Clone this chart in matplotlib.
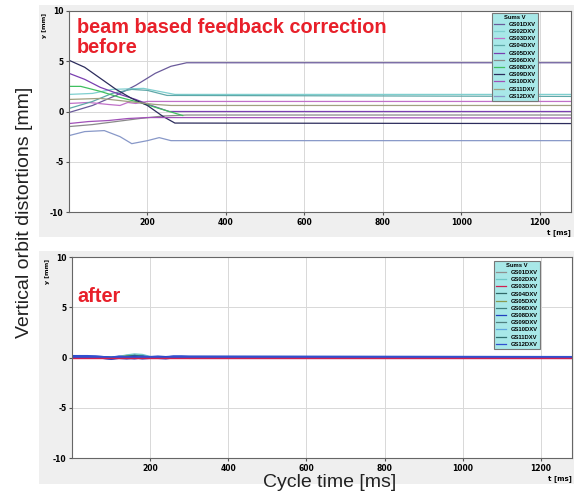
import numpy as np
import matplotlib.pyplot as plt
from matplotlib.patches import Rectangle

# Nombres de los canales y colores (leyenda)
canales = ["GS01DXV", "GS02DXV", "GS03DXV", "GS04DXV", "GS05DXV", "GS06DXV",
           "GS08DXV", "GS09DXV", "GS10DXV", "GS11DXV", "GS12DXV"]
colores_antes = ["#6a5a9a", "#7fcfcf", "#c070c8", "#5fa8a8", "#7a3fb0", "#8a8a8a",
                 "#40c060", "#2c2c5c", "#a050b8", "#a0a080", "#8898c8"]
colores_despues = ["#909090", "#70c8c8", "#d02050", "#306868", "#8a9a50", "#408080",
                   "#2040c0", "#508080", "#60a8e0", "#307070", "#3050d0"]

# Antes: (t [ms], y [mm])
t_antes = [
    [0, 60, 120, 170, 220, 260, 300, 1280],
    [0, 60, 110, 190, 230, 270, 1280],
    [0, 50, 100, 130, 150, 170, 200, 1280],
    [0, 60, 110, 160, 200, 250, 1280],
    [0, 40, 80, 130, 170, 210, 255, 1280],
    [0, 60, 120, 180, 240, 300, 1280],
    [0, 30, 80, 130, 180, 230, 290],
    [0, 40, 80, 120, 160, 200, 240, 270, 1280],
    [0, 50, 100, 150, 200, 1280],
    [0, 80, 150, 220, 260, 1280],
    [0, 40, 90, 130, 160, 200, 230, 260, 1280],
]
y_antes = [
    [-0.1, 0.6, 1.6, 2.6, 3.8, 4.5, 4.85, 4.85],
    [1.7, 1.8, 2.2, 2.3, 2.0, 1.7, 1.7],
    [0.8, 0.9, 0.7, 0.6, 0.9, 0.8, 1.0, 1.0],
    [0.3, 1.0, 1.8, 2.2, 2.1, 1.6, 1.5],
    [3.8, 3.2, 2.4, 1.7, 1.2, 0.6, 0.0, 0.0],
    [-1.5, -1.3, -1.0, -0.7, -0.45, -0.35, -0.35],
    [2.5, 2.5, 2.0, 1.4, 0.9, 0.3, -0.4],
    [5.1, 4.4, 3.3, 2.2, 1.3, 0.6, -0.5, -1.15, -1.2],
    [-1.2, -1.0, -0.9, -0.7, -0.6, -0.65],
    [1.2, 1.3, 1.0, 0.7, 0.6, 0.6],
    [-2.4, -2.0, -1.9, -2.5, -3.2, -2.9, -2.6, -2.9, -2.9],
]

# Después: todo cerca de cero, pequeñas oscilaciones hasta ~300 ms
t_despues = [0, 20, 40, 60, 80, 100, 120, 140, 160, 180, 200, 220, 240, 260, 280, 300, 1280]
y_despues = [
    [0.0, 0.05, 0.0, 0.05, 0.0, 0.0, 0.1, 0.2, 0.25, 0.2, 0.05, 0.0, 0.0, 0.0, 0.0, 0.0, 0.0],
    [0.0, 0.0, 0.05, 0.0, 0.0, 0.05, 0.1, 0.25, 0.35, 0.3, 0.1, 0.0, 0.0, 0.0, 0.0, 0.0, 0.0],
    [0.0, 0.0, 0.0, 0.0, 0.0, 0.0, 0.0, 0.0, 0.0, 0.0, 0.0, 0.0, 0.0, 0.0, 0.0, 0.0, 0.0],
    [0.05, 0.1, 0.05, 0.0, 0.05, 0.0, 0.0, 0.1, 0.15, 0.1, 0.0, 0.05, 0.0, 0.0, 0.0, 0.0, 0.0],
    [0.0, 0.0, 0.0, -0.05, 0.0, 0.0, 0.05, 0.15, 0.1, 0.05, 0.0, 0.0, 0.0, 0.0, 0.0, 0.0, 0.0],
    [0.0, 0.05, 0.0, 0.0, -0.05, 0.0, 0.0, 0.05, 0.2, 0.15, 0.0, 0.0, 0.0, 0.0, 0.0, 0.0, 0.0],
    [0.1, 0.1, 0.05, 0.05, 0.0, -0.1, 0.0, -0.05, 0.05, -0.05, 0.0, 0.05, 0.0, 0.05, 0.05, 0.05, 0.0],
    [0.0, 0.0, 0.05, 0.0, 0.0, 0.0, 0.05, 0.1, 0.15, 0.1, 0.0, 0.0, 0.0, 0.0, 0.0, 0.0, 0.0],
    [0.0, 0.0, 0.0, 0.05, 0.0, 0.05, 0.0, 0.0, 0.1, 0.05, 0.0, 0.0, 0.0, 0.0, 0.0, 0.0, 0.0],
    [0.0, 0.0, 0.0, 0.0, 0.05, 0.0, 0.0, 0.1, 0.2, 0.1, 0.0, 0.0, 0.0, 0.0, 0.0, 0.0, 0.0],
    [0.05, 0.1, 0.1, 0.05, 0.0, -0.05, 0.05, 0.0, -0.05, 0.05, 0.0, 0.0, -0.05, 0.05, 0.05, 0.0, 0.0],
]
orden_despues = [0, 1, 3, 4, 5, 7, 8, 9, 6, 10, 2]  # rojo encima, azules debajo

plt.rcParams['font.family'] = ['Liberation Sans', 'DejaVu Sans']
plt.rcParams['axes.unicode_minus'] = False

fig = plt.figure(figsize=(5.74, 4.94), dpi=100)
W, H = 574, 494

def caja(x0, y0, x1, y1):
    return [x0 / W, 1 - y1 / H, (x1 - x0) / W, (y1 - y0) / H]

# Paneles grises de fondo
for (x0, y0, x1, y1) in [(39, 5, 574, 237), (39, 251, 574, 484)]:
    r = caja(x0, y0, x1, y1)
    fig.patches.append(Rectangle((r[0], r[1]), r[2], r[3], transform=fig.transFigure,
                                 facecolor="#efefef", edgecolor="none", zorder=-5))

ax1 = fig.add_axes(caja(69, 11, 571, 212))
ax2 = fig.add_axes(caja(72, 257, 572, 458))

lineas1 = []
for i, nombre in enumerate(canales):
    l, = ax1.plot(t_antes[i], y_antes[i], color=colores_antes[i], lw=0.9)
    lineas1.append(l)

lineas2 = [None] * len(canales)
for i in orden_despues:
    lw = 2.2 if i in (6, 10) else 1.0
    lineas2[i], = ax2.plot(t_despues, y_despues[i], color=colores_despues[i], lw=lw)

for ax, lineas, leg_x, leg_y in [(ax1, lineas1, 0.843, 0.99), (ax2, lineas2, 0.844, 0.98)]:
    ax.set_xlim(0, 1280)
    ax.set_ylim(-10, 10)
    ax.set_xticks([200, 400, 600, 800, 1000, 1200])
    ax.set_yticks([-10, -5, 0, 5, 10])
    ax.tick_params(labelsize=5.5, length=2, color="#555555", pad=2)
    for lab in ax.get_xticklabels() + ax.get_yticklabels():
        lab.set_fontweight("bold")
        lab.set_family("DejaVu Sans")
    ax.grid(True, color="#d8d8d8", lw=0.7)
    ax.set_axisbelow(True)
    for s in ax.spines.values():
        s.set_color("#666666")
        s.set_linewidth(0.8)
    ax.text(-0.048, 0.99, "y [mm]", transform=ax.transAxes, rotation=90,
            fontsize=4.5, fontweight="bold", family="DejaVu Sans", ha="center", va="top")
    ax.text(1.0, -0.085, "t [ms]", transform=ax.transAxes, fontsize=5,
            fontweight="bold", family="DejaVu Sans", ha="right", va="top")
    leg = ax.legend(lineas, canales, loc="upper left", bbox_to_anchor=(leg_x, leg_y),
                    title="Sums V", fontsize=4.2, title_fontsize=4.2, frameon=True,
                    fancybox=False, handlelength=1.8, handletextpad=0.8,
                    labelspacing=0.36, borderpad=0.3, borderaxespad=0)
    for h in leg.legend_handles:
        h.set_linewidth(0.9)
    leg.get_frame().set_facecolor("#a8e8e8")
    leg.get_frame().set_edgecolor("#777777")
    leg.get_frame().set_alpha(1)
    leg.get_frame().set_linewidth(0.8)
    for t in leg.get_texts():
        t.set_fontweight("bold")
    leg.get_title().set_fontweight("bold")

ax1.text(0.016, 0.965, "beam based feedback correction\nbefore", transform=ax1.transAxes,
         color="#e8202a", fontsize=14.3, fontweight="bold", ha="left", va="top",
         linespacing=1.05)
ax2.text(0.01, 0.85, "after", transform=ax2.transAxes,
         color="#e8202a", fontsize=14.3, fontweight="bold", ha="left", va="top")

fig.text(25 / W, 1 - 212 / H, "Vertical orbit distortions [mm]", rotation=90,
         fontsize=14, color="#222222", ha="center", va="center")
fig.text(330 / W, 1 - 482 / H, "Cycle time [ms]",
         fontsize=14, color="#222222", ha="center", va="center")

fig.savefig("out.png", dpi=100)
